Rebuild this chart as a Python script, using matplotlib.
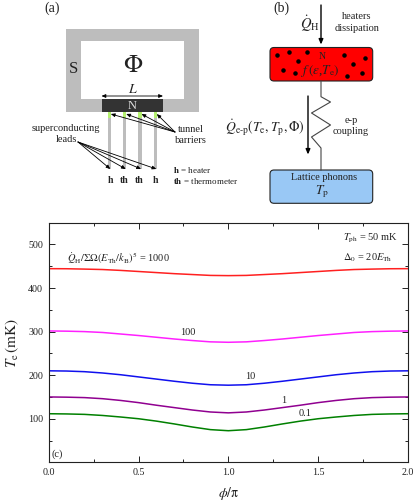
#! /usr/bin/env python

# Three panel figure: (a) device sketch, (b) thermal model, (c) Te versus phase
import matplotlib
matplotlib.use('Agg')
import matplotlib.pyplot as plt
from matplotlib.patches import Rectangle, FancyBboxPatch

plt.rcParams['font.family'] = ['Liberation Serif', 'DejaVu Serif']
plt.rcParams['mathtext.fontset'] = 'stix'

# Curve data
phi = [0.0, 0.1, 0.2, 0.3, 0.4, 0.5, 0.6, 0.7, 0.8, 0.9, 1.0,
       1.1, 1.2, 1.3, 1.4, 1.5, 1.6, 1.7, 1.8, 1.9, 2.0]
te_1000 = [444.5, 444.3, 443.5, 442.5, 440.5, 438, 435.5, 433, 431, 429, 428.5,
           429, 431, 433, 435.5, 438, 440.5, 442.5, 443.5, 444.3, 444.5]
te_100 = [301.5, 301, 300, 298, 294.5, 291, 287, 283, 279.5, 276.5, 275.5,
          276.5, 279.5, 283, 287, 291, 294.5, 298, 300, 301, 301.5]
te_10 = [210, 209.5, 208, 205, 201, 196, 191, 186, 181.5, 178, 177,
         178, 181.5, 186, 191, 196, 201, 205, 208, 209.5, 210]
te_1 = [150, 149.5, 148.5, 146, 142, 137, 131, 125.5, 120, 115.5, 113.5,
        115.5, 120, 125.5, 131, 137, 142, 146, 148.5, 149.5, 150]
te_01 = [111.5, 111, 110, 107.5, 104, 100, 94.5, 88, 81, 75, 72.5,
         75, 81, 88, 94.5, 100, 104, 107.5, 110, 111, 111.5]

series = [te_1000, te_100, te_10, te_1, te_01]
colors = ['#ff2020', '#ff20ff', '#1010ee', '#900090', '#008000']

x_ticks = [0.0, 0.5, 1.0, 1.5, 2.0]
y_ticks = [100, 200, 300, 400, 500]

W, H = 415, 501
ink = '#222222'

fig = plt.figure(figsize=(W / 100, H / 100), dpi=100)

# Panel (c)
ax = fig.add_axes([48.7 / W, 1 - 462.3 / H, 359.3 / W, 239.6 / H])
for vals, col in zip(series, colors):
    ax.plot(phi, vals, color=col, lw=1.1)
ax.set_xlim(0, 2)
ax.set_ylim(0, 550)
ax.set_xticks(x_ticks)
ax.set_xticklabels(['%.1f' % t for t in x_ticks])
ax.set_yticks(y_ticks)
ax.set_xticks([0.25, 0.75, 1.25, 1.75], minor=True)
ax.set_yticks([50, 150, 250, 350, 450, 550], minor=True)
ax.tick_params(which='major', direction='in', top=True, right=True, length=4,
               width=0.7, labelsize=7.2, colors=ink, pad=4)
ax.tick_params(which='minor', direction='in', top=True, right=True, length=2.2,
               width=0.7, colors=ink)
for s in ax.spines.values():
    s.set_linewidth(0.8)
    s.set_color(ink)
ax.set_xlabel(r'$\phi/\mathrm{\pi}$', fontsize=10, color=ink, labelpad=6)
ax.set_ylabel(r'$T_{\mathrm{e}}\,(\mathrm{mK})$', fontsize=11, color=ink, labelpad=5)

ax.text(0.10, 469, r'$\dot{Q}_{\mathrm{H}}/\Sigma\Omega(E_{\mathrm{Th}}/k_{\mathrm{B}})^{5}$ = 1000',
        fontsize=7.5, color=ink, va='center')
ax.text(1.64, 514, r'$T_{\mathrm{ph}}$ = 50 mK', fontsize=7.5, color=ink, va='center')
ax.text(1.64, 469, r'$\Delta_{0}$ = 20$E_{\mathrm{Th}}$', fontsize=7.5, color=ink, va='center')
ax.text(0.777, 297, '100', fontsize=7.5, color=ink, ha='center', va='center')
ax.text(1.12, 197, '10', fontsize=7.5, color=ink, ha='center', va='center')
ax.text(1.306, 142, '1', fontsize=7.5, color=ink, ha='center', va='center')
ax.text(1.427, 111, '0.1', fontsize=7.5, color=ink, ha='center', va='center')
ax.text(0.045, 18, '(c)', fontsize=7.5, color=ink, ha='center', va='center')

# Overlay in pixel coordinates for the two sketches
sk = fig.add_axes([0, 0, 1, 1])
sk.set_xlim(0, W)
sk.set_ylim(H, 0)
sk.axis('off')
sk.patch.set_alpha(0)


def arrow(x0, y0, x1, y1, lw=0.6, size=4):
    sk.annotate('', xy=(x1, y1), xytext=(x0, y0),
                arrowprops=dict(arrowstyle='-|>,head_width=0.13,head_length=0.3', color='black',
                                lw=lw, shrinkA=0, shrinkB=0, mutation_scale=size * 2))


# Panel (a)
gray = '#bdbdbd'
sk.add_patch(Rectangle((65.7, 29.3), 133.6, 82.4, fc=gray, ec='none'))
sk.add_patch(Rectangle((80.7, 41.3), 103.3, 58, fc='white', ec='none'))
sk.add_patch(Rectangle((102, 99.3), 60.7, 12.4, fc='#333333', ec='none'))
for x in [109.3, 124.7, 140, 155.3]:
    sk.add_patch(Rectangle((x - 1.6, 117.5), 3.2, 51, fc=gray, ec='none'))
    sk.add_patch(Rectangle((x - 1.6, 111.7), 3.2, 5.8, fc='#b4f070', ec='none'))

sk.text(52, 8, '(a)', fontsize=10, color=ink, ha='center', va='center')
sk.text(73, 69, 'S', fontsize=12, color=ink, ha='center', va='center')
sk.text(133, 66, r'$\Phi$', fontsize=18, color=ink, ha='center', va='center')
sk.text(133, 89, r'$L$', fontsize=10, color=ink, ha='center', va='center')
sk.text(132, 106, 'N', fontsize=9, color='#dddddd', ha='center', va='center')
sk.annotate('', xy=(101.5, 96), xytext=(163, 96),
            arrowprops=dict(arrowstyle='<|-|>,head_width=0.13,head_length=0.3', color='black',
                            lw=0.6, shrinkA=0, shrinkB=0, mutation_scale=8))
sk.text(66, 128, 'superconducting', fontsize=7.5, color=ink, ha='center', va='center')
sk.text(66, 139.5, 'leads', fontsize=7.5, color=ink, ha='center', va='center')
sk.text(191, 129, 'tunnel', fontsize=7.5, color=ink, ha='center', va='center')
sk.text(191, 140.5, 'barriers', fontsize=7.5, color=ink, ha='center', va='center')
for x in [109.3, 124.7, 140, 155.3]:
    arrow(78, 142, x + 1, 169)
    arrow(175, 132, x + 1.5, 114)
for x, lab in zip([110, 124.5, 139.5, 155.5], ['h', 'th', 'th', 'h']):
    sk.text(x, 180.5, lab, fontsize=7, fontweight='bold', color=ink, ha='center', va='center')
sk.text(173, 170, r'$\mathbf{h}$ = heater', fontsize=6.5, color=ink, va='center')
sk.text(173, 180.5, r'$\mathbf{th}$ = thermometer', fontsize=6.5, color=ink, va='center')

# Panel (b)
sk.text(281.5, 8, '(b)', fontsize=10, color=ink, ha='center', va='center')
sk.add_patch(FancyBboxPatch((270, 47.5), 102.7, 33.5, boxstyle='round,pad=0,rounding_size=4',
                            fc='#ff0000', ec='#222222', lw=0.8))
sk.add_patch(FancyBboxPatch((270, 170), 102.7, 33.3, boxstyle='round,pad=0,rounding_size=4',
                            fc='#99c8f5', ec='#222222', lw=0.8))
dots_x = [277, 289.3, 307.3, 298.3, 283.3, 295.3, 344, 353, 365, 362, 346.7]
dots_y = [55, 52, 52, 61, 70.3, 73.3, 55, 64, 58, 73.3, 76.3]
sk.scatter(dots_x, dots_y, s=5, color='black', zorder=3)
sk.plot([321, 321, 330.5, 311.5, 330.5, 311.5, 321, 321],
        [81, 96.7, 102, 113, 125, 137, 148, 170], color='#444444', lw=0.8, zorder=1)
arrow(321, 5, 321, 44.5, lw=1.0, size=5)
arrow(308, 96, 308, 154.5, lw=1.0, size=5)
sk.text(310, 24, r'$\dot{Q}_{\mathrm{H}}$', fontsize=10.5, color=ink, ha='center', va='center')
sk.text(357, 16, 'heaters', fontsize=7.5, color=ink, ha='center', va='center')
sk.text(357, 28.5, 'dissipation', fontsize=7.5, color=ink, ha='center', va='center')
sk.text(322, 56, 'N', fontsize=7, color=ink, ha='center', va='center')
sk.text(320, 71, r'$f\,(\varepsilon$,$T_{\mathrm{e}})$', fontsize=9.5, color=ink, ha='center', va='center')
sk.text(264.5, 127, r'$\dot{Q}_{\mathrm{e\text{-}p}}(T_{\mathrm{e}},T_{\mathrm{p}},\Phi)$', fontsize=9.8,
        color=ink, ha='center', va='center')
sk.text(351, 120, 'e-p', fontsize=7.5, color=ink, ha='center', va='center')
sk.text(351, 132, 'coupling', fontsize=7.5, color=ink, ha='center', va='center')
sk.text(324, 178, 'Lattice phonons', fontsize=7.4, color=ink, ha='center', va='center')
sk.text(322, 192, r'$T_{\mathrm{p}}$', fontsize=9.5, color=ink, ha='center', va='center')

fig.savefig('out.png', dpi=100)
